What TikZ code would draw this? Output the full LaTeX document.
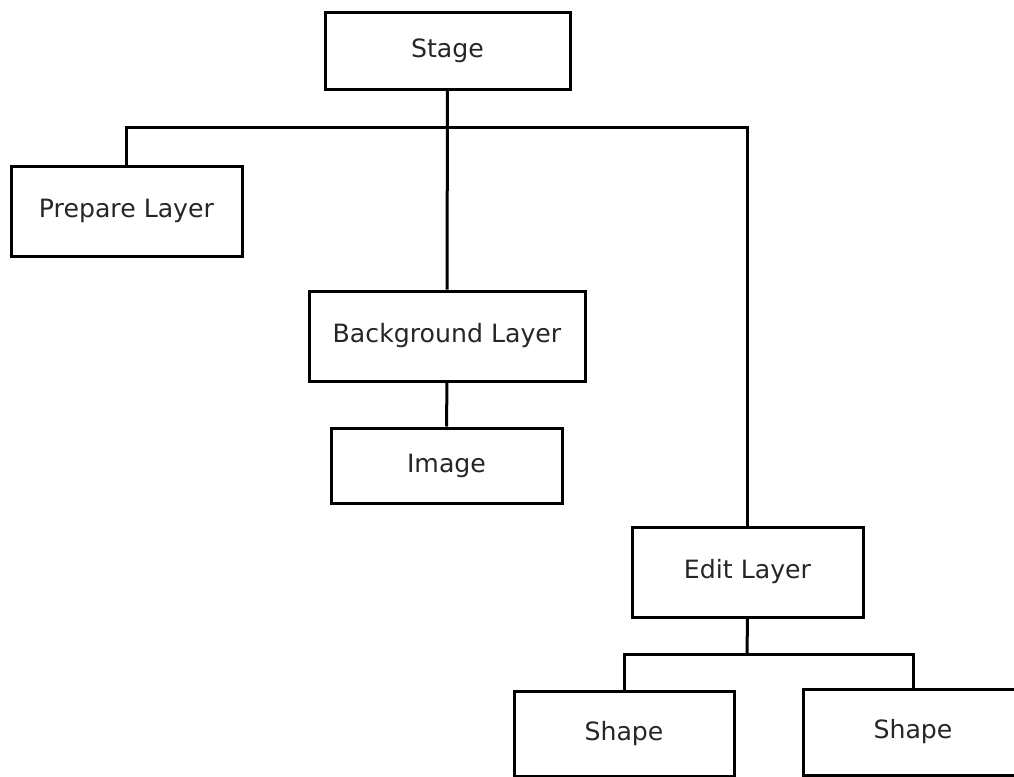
\documentclass[tikz,border=0pt]{standalone}
\usepackage{fontspec}
\setmainfont{DejaVu Sans}
\begin{document}
\begin{tikzpicture}[x=0.5pt,y=-0.5pt,
  box/.style={draw=black, line width=1.5pt, fill=white, inner sep=0pt, font=\fontsize{12.6pt}{15pt}\selectfont, text=black!85},
  link/.style={draw=black, line width=1.5pt}]
\clip (0,0) rectangle (1014,777);
\useasboundingbox (0,0) rectangle (1014,777);
\node[box, minimum width=122.5pt, minimum height=38.5pt] (stage) at (447.5,50.5) {Stage};
\node[box, minimum width=115.5pt, minimum height=45pt] (prep) at (126.5,211) {Prepare Layer};
\node[box, minimum width=138pt, minimum height=45pt] (bg) at (447,336) {Background Layer};
\node[box, minimum width=115.5pt, minimum height=37.5pt] (img) at (446.5,465.5) {Image};
\node[box, minimum width=115.5pt, minimum height=45pt] (edit) at (747.5,572) {Edit Layer};
\node[box, minimum width=110pt, minimum height=42.5pt] (s1) at (624,733.5) {Shape};
\node[box, minimum width=110pt, minimum height=43pt] (s2) at (913,732) {Shape};
\coordinate (bus) at (447,127);
\coordinate (bus2) at (747,654);
\draw[link] (stage.south) -- (bg.north);
\draw[link] (prep.north) |- (bus) -| (edit.north);
\draw[link] (bg.south) -- (img.north);
\draw[link] (edit.south) -- (bus2);
\draw[link] (s1.north) |- (bus2) -| (s2.north);
\end{tikzpicture}
\end{document}
